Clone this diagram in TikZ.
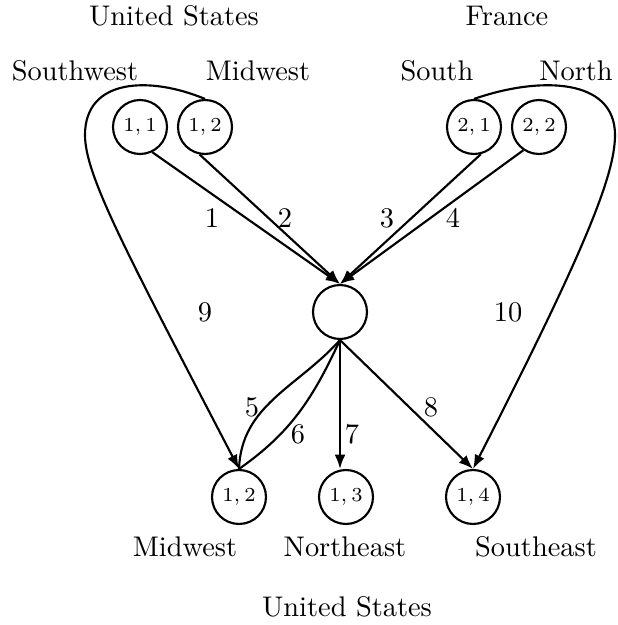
\documentclass[tikz,border=0pt]{standalone}
\usetikzlibrary{arrows.meta}
\begin{document}
\begin{tikzpicture}[x=0.352pt,y=-0.352pt,
  st/.style={circle,draw,line width=0.75pt,minimum size=19pt,inner sep=0pt,font=\scriptsize},
  flow/.style={line width=0.75pt,-{Latex[length=5pt,width=3.8pt]}},
  plainflow/.style={line width=0.75pt},
  lab/.style={inner sep=0pt}]
\useasboundingbox (0,0) rectangle (617,625);

% region headings
\node[lab] (us1) at (174,16) {United States};
\node[lab] (fr)  at (507,16) {France};
\node[lab] (sw)  at (75,71)  {Southwest};
\node[lab] (mw1) at (258,71) {Midwest};
\node[lab] (so)  at (437,71) {South};
\node[lab] (no)  at (576,71) {North};

% source states
\node[st] (t11) at (140,127) {$1,1$};
\node[st] (t12) at (205,127) {$1,2$};
\node[st] (t21) at (474,127) {$2,1$};
\node[st] (t22) at (539,127) {$2,2$};

% hub
\node[st] (c) at (340,312) {};

% destination states
\node[st] (b12) at (239,497) {$1,2$};
\node[st] (b13) at (346,497) {$1,3$};
\node[st] (b14) at (473,497) {$1,4$};

\node[lab] (mw2) at (185,547) {Midwest};
\node[lab] (ne)  at (345,547) {Northeast};
\node[lab] (se)  at (536,547) {Southeast};
\node[lab] (us2) at (347,607) {United States};

% flows into the hub
\draw[flow] (t11.-64)  -- (c.north);
\draw[flow] (t12.-101) -- (c.north);
\draw[flow] (t21.-76)  -- (c.north);
\draw[flow] (t22.-124) -- (c.north);

% flows out of the hub
\draw[plainflow] (c.south) to[out=228,in=88] (b12.north);
\draw[plainflow] (c.south) to[out=245,in=35] (b12.north);
\draw[flow] (c.south) -- (c.south |- b13.north);
\draw[flow] (c.south) -- (b14.north);

% direct loops
\draw[flow] (t12.north) .. controls (150,76) and (85,78) .. (85,135)
  .. controls (85,175) and (125,250) .. (b12.north);
\draw[flow] (t21.north) .. controls (540,76) and (615,78) .. (615,135)
  .. controls (615,175) and (585,250) .. (b14.north);

% flow numbers
\node[lab] (l1)  at (212,218) {1};
\node[lab] (l2)  at (285,218) {2};
\node[lab] (l3)  at (387,218) {3};
\node[lab] (l4)  at (453,218) {4};
\node[lab] (l5)  at (252,407) {5};
\node[lab] (l6)  at (298,434) {6};
\node[lab] (l7)  at (352,434) {7};
\node[lab] (l8)  at (431,407) {8};
\node[lab] (l9)  at (205,312) {9};
\node[lab] (l10) at (508,312) {10};
\end{tikzpicture}
\end{document}
